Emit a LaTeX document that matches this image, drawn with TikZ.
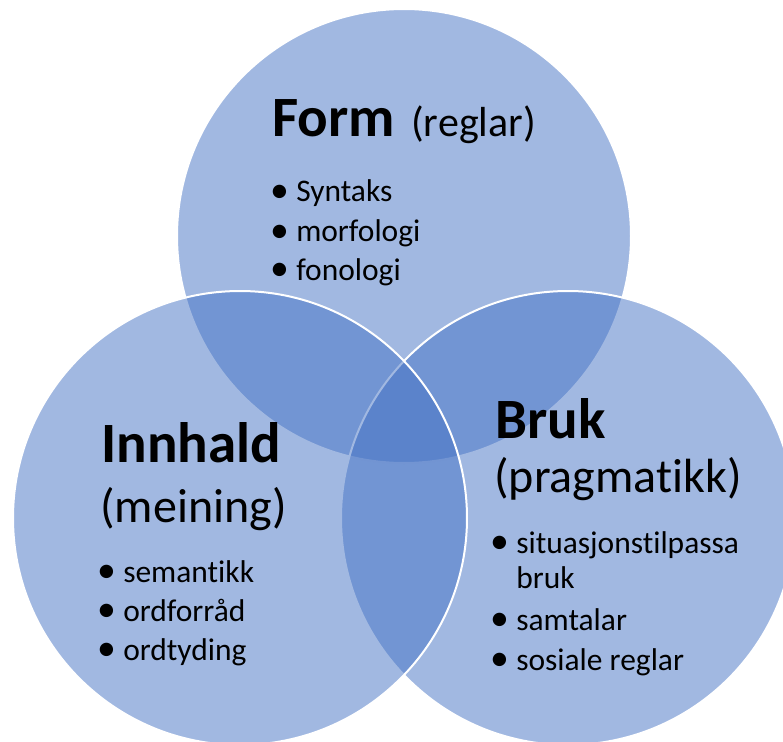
\documentclass[tikz,border=0pt]{standalone}
\usepackage{fontspec}
\setmainfont{Carlito}[Ligatures=NoCommon]
\usepackage{graphicx}
\usepackage{tikz}
\definecolor{vennblue}{RGB}{68, 114, 196}
\newcommand{\bul}{\llap{\raisebox{-0.6pt}{\scalebox{1.2}{\textbullet}}\hspace{5.5pt}}}

\begin{document}
\begin{tikzpicture}[x=0.75pt, y=-0.75pt,
    venn/.style={circle, draw=white, line width=1.5pt, fill=vennblue,
                 fill opacity=0.5, minimum size=340.5pt, inner sep=0pt},
    head/.style={anchor=base west, inner sep=0pt,
                 font=\fontsize{42.75}{48}\selectfont\bfseries},
    sub/.style={anchor=base west, inner sep=0pt,
                font=\fontsize{36}{40}\selectfont},
    point/.style={anchor=base west, inner sep=0pt,
                  font=\fontsize{23.6}{26}\selectfont}
]
    \useasboundingbox (0,0) rectangle (783,742);
    \clip (0,0) rectangle (783,742);

    % the three circles
    \node[venn] (form) at (404,236) {};
    \node[venn] (bruk) at (568,518) {};
    \node[venn] (innhald) at (240,518) {};

    % Form
    \node[head] (formhead) at (272,137) {Form};
    \node[sub, font=\fontsize{31.5}{36}\selectfont] (reglar) at (411,137) {(reglar)};
    \node[point] (syntaks) at (296,202) {\bul Syntaks};
    \node[point] (morfologi) at (296,242) {\bul morfologi};
    \node[point] (fonologi) at (296,280) {\bul fonologi};

    % Innhald
    \node[head] (innhaldhead) at (101,462) {Innhald};
    \node[sub] (meining) at (100,522) {(meining)};
    \node[point] (semantikk) at (123,582) {\bul semantikk};
    \node[point] (ordforraad) at (123,621) {\bul ordforråd};
    \node[point] (ordtyding) at (123,660) {\bul ordtyding};

    % Bruk
    \node[head] (brukhead) at (495,438) {Bruk};
    \node[sub] (pragmatikk) at (494,492) {(pragmatikk)};
    \node[point] (situasjon) at (516,553) {\bul situasjonstilpassa};
    \node[point] (situasjon2) at (516,588) {bruk};
    \node[point] (samtalar) at (516,630) {\bul samtalar};
    \node[point] (sosiale) at (516,670) {\bul sosiale reglar};
\end{tikzpicture}
\end{document}
